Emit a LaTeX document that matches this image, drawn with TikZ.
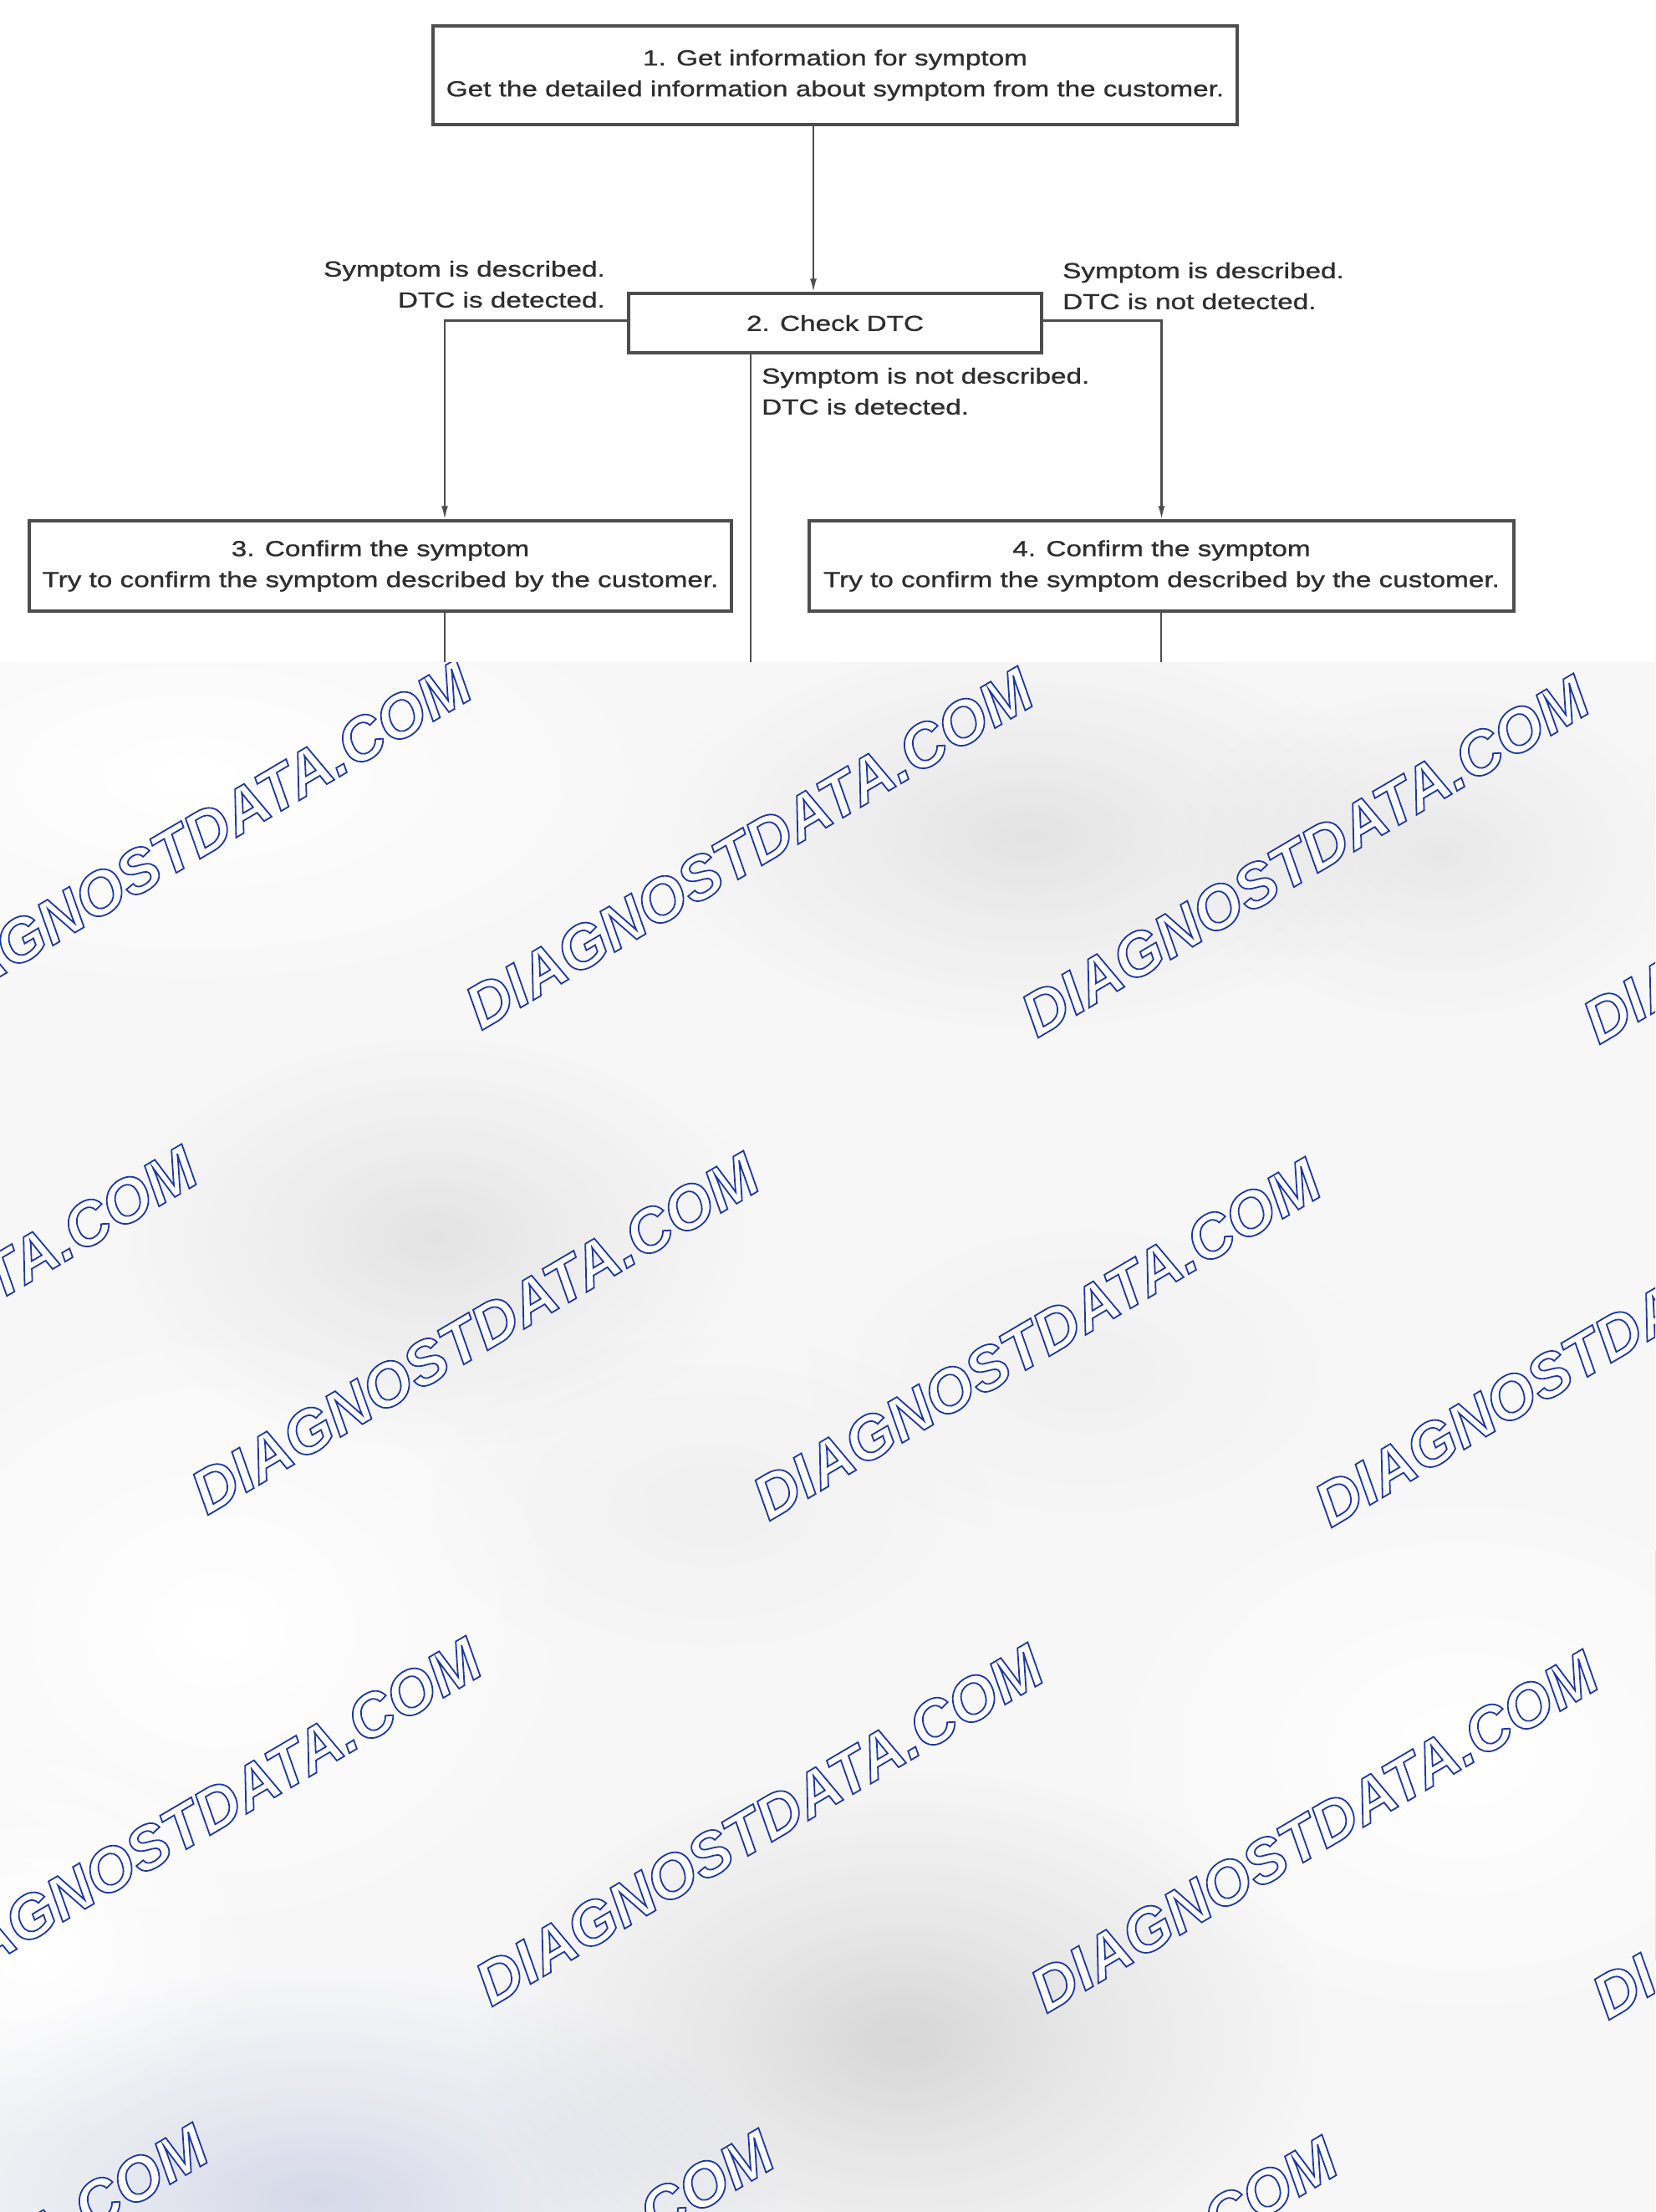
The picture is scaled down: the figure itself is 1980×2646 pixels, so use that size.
\documentclass[tikz,border=0pt]{standalone}
\usepackage{fontspec}
\setmainfont{Liberation Sans}
\newfontfamily\diafont[FakeStretch=1.28,FakeBold=1.0]{Liberation Sans}
\newfontfamily\wmfont{Liberation Sans}
\usetikzlibrary{arrows.meta}
\definecolor{ln}{HTML}{4D4D4D}
\definecolor{tx}{HTML}{2E2E2E}
\definecolor{pbg}{HTML}{F7F7F8}
\definecolor{blu}{RGB}{220,224,238}
\colorlet{blobin}{black!9}
\colorlet{blobmid}{black!5}
\pgfdeclareradialshading[blobin,blobmid]{darkblob}{\pgfpoint{0bp}{0bp}}{color(0bp)=(blobin); color(9bp)=(blobmid); color(22bp)=(white); color(50bp)=(white)}
\pgfdeclareradialshading[blobin,blobmid]{lightblob}{\pgfpoint{0bp}{0bp}}{color(0bp)=(blobin); color(9bp)=(blobmid); color(22bp)=(black); color(50bp)=(black)}
\newcommand\darkat[5]{\colorlet{blobin}{#5}\colorlet{blobmid}{blobin!50!white}%
  \begin{scope}[blend mode=multiply, transform canvas={shift={(#1,#2)}, xscale=#3/22, yscale=#4/22}]
  \clip (0,0) circle (22bp);
  \pgftext{\pgfuseshading{darkblob}}
  \end{scope}}
\newcommand\lightat[5]{\colorlet{blobin}{#5}\colorlet{blobmid}{blobin!50!black}%
  \begin{scope}[blend mode=screen, transform canvas={shift={(#1,#2)}, xscale=#3/22, yscale=#4/22}]
  \clip (0,0) circle (22bp);
  \pgftext{\pgfuseshading{lightblob}}
  \end{scope}}
\newcommand\wmtext{{\color{white}\special{pdf:literal direct 0.12 0.22 0.62 RG 1.8 w 2 Tr}DIAGNOSTDATA.COM\special{pdf:literal direct 0 Tr}}}
\begin{document}
\begin{tikzpicture}[x=1bp,y=-1bp,
  txt/.style={font=\diafont\fontsize{26bp}{37bp}\selectfont, text=tx},
  box/.style={txt, draw=ln, line width=3.5bp, fill=white, inner sep=0pt, align=center},
  lab/.style={txt, inner sep=0pt},
  conn/.style={draw=ln, line width=2.2bp},
  arr/.style={conn, -{Latex[length=16bp,width=8bp]}},
  wm/.style={font=\wmfont\bfseries\itshape\fontsize{73.5bp}{73.5bp}\selectfont, rotate=30.5, inner sep=0pt}
]
\useasboundingbox (0,0) rectangle (1980,2646);
\fill[white] (0,0) rectangle (1980,792);

% lower panel
\begin{scope}
\clip (0,792) rectangle (1980,2646);
\fill[pbg] (0,792) rectangle (1980,2646);
\lightat{230}{930}{520}{240}{white}
\lightat{260}{1950}{400}{340}{white}
\lightat{1750}{2100}{400}{300}{white}
\lightat{40}{2330}{240}{220}{white}
\darkat{1230}{1000}{460}{250}{black!8}
\darkat{1720}{1020}{320}{220}{black!6}
\darkat{520}{1480}{400}{260}{black!8}
\darkat{1300}{1640}{360}{220}{black!3}
\darkat{850}{1800}{360}{220}{black!3}
\darkat{1080}{2440}{520}{340}{black!13}
\darkat{380}{2630}{560}{280}{blu}

\node[wm] (wa1) at (224,1007) {\wmtext};
\node[wm] (wa2) at (896,1015) {\wmtext};
\node[wm] (wa3) at (1561,1024) {\wmtext};
\node[wm] (wa4) at (2233,1032) {\wmtext};
\node[wm] (wb1) at (-104,1587) {\wmtext};
\node[wm] (wb2) at (568,1595) {\wmtext};
\node[wm] (wb3) at (1240,1602) {\wmtext};
\node[wm] (wb4) at (1912,1610) {\wmtext};
\node[wm] (wc1) at (236,2175) {\wmtext};
\node[wm] (wc2) at (908,2183) {\wmtext};
\node[wm] (wc3) at (1572,2191) {\wmtext};
\node[wm] (wc4) at (2244,2199) {\wmtext};
\node[wm] (wd1) at (-91,2757) {\wmtext};
\node[wm] (wd2) at (586,2764) {\wmtext};
\node[wm] (wd3) at (1260,2772) {\wmtext};
\end{scope}

% diagram
\node[box, minimum width=962bp, minimum height=118bp] (b1) at (999,90)
  {1. Get information for symptom\\Get the detailed information about symptom from the customer.};
\node[box, minimum width=494bp, minimum height=71bp] (b2) at (999,386.5) {2. Check DTC};
\node[box, minimum width=840bp, minimum height=108bp] (b3) at (455,677)
  {3. Confirm the symptom\\Try to confirm the symptom described by the customer.};
\node[box, minimum width=843bp, minimum height=108bp] (b4) at (1389.5,677)
  {4. Confirm the symptom\\Try to confirm the symptom described by the customer.};

\node[lab, align=right, anchor=east] (lL) at (724,340) {Symptom is described.\\DTC is detected.};
\node[lab, align=left, anchor=west] (lR) at (1271,342) {Symptom is described.\\DTC is not detected.};
\node[lab, align=left, anchor=west] (lM) at (911,468) {Symptom is not described.\\DTC is detected.};

\coordinate (eL) at (532,792);
\coordinate (eM) at (898,792);
\coordinate (eR) at (1389,792);

\draw[arr] ([xshift=-26bp]b1.south) -- ([xshift=-26bp]b2.north);
\draw[arr] ([yshift=3bp]b2.west) -| ([xshift=77bp]b3.north);
\draw[arr] ([yshift=3bp]b2.east) -| (b4.north);
\draw[conn] (b2.south -| eM) -- (eM);
\draw[conn] (b3.south -| eL) -- (eL);
\draw[conn] (b4.south -| eR) -- (eR);
\end{tikzpicture}
\end{document}
